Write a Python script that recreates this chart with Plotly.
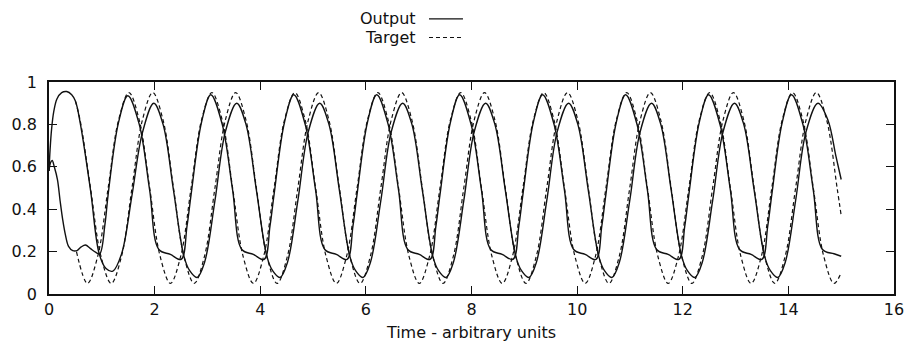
import plotly.graph_objects as go

# Time (arbitrary units) and values for the two oscillator channels.
# Channel A and channel B each have a network output (solid) and a target (dashed).

target_a_t = [
    0.52, 0.728, 0.924, 1.120, 1.317, 1.513, 1.709, 1.906, 2.102,
    2.299, 2.495, 2.691, 2.888, 3.084, 3.280, 3.477, 3.673,
    3.870, 4.066, 4.262, 4.459, 4.655, 4.851, 5.048, 5.244,
    5.441, 5.637, 5.833, 6.030, 6.226, 6.422, 6.619, 6.815,
    7.011, 7.207, 7.403, 7.600, 7.796, 7.992, 8.189, 8.385,
    8.582, 8.778, 8.974, 9.171, 9.367, 9.563, 9.760, 9.956,
    10.153, 10.349, 10.545, 10.742, 10.938, 11.134, 11.331, 11.527,
    11.724, 11.920, 12.116, 12.313, 12.509, 12.705, 12.902, 13.098,
    13.294, 13.490, 13.686, 13.883, 14.079, 14.275, 14.472, 14.668,
    14.864, 15.0,
]
target_a_y = [
    0.20, 0.05, 0.18, 0.50, 0.82, 0.95, 0.82, 0.50, 0.18,
    0.05, 0.18, 0.50, 0.82, 0.95, 0.82, 0.50, 0.18,
    0.05, 0.18, 0.50, 0.82, 0.95, 0.82, 0.50, 0.18,
    0.05, 0.18, 0.50, 0.82, 0.95, 0.82, 0.50, 0.18,
    0.05, 0.18, 0.50, 0.82, 0.95, 0.82, 0.50, 0.18,
    0.05, 0.18, 0.50, 0.82, 0.95, 0.82, 0.50, 0.18,
    0.05, 0.18, 0.50, 0.82, 0.95, 0.82, 0.50, 0.18,
    0.05, 0.18, 0.50, 0.82, 0.95, 0.82, 0.50, 0.18,
    0.05, 0.18, 0.50, 0.82, 0.95, 0.82, 0.50, 0.18,
    0.05, 0.10,
]

target_b_t = [
    0.50, 0.589, 0.786, 0.982, 1.178, 1.375, 1.571, 1.768,
    1.964, 2.160, 2.357, 2.553, 2.749, 2.946, 3.142, 3.339,
    3.534, 3.730, 3.927, 4.123, 4.319, 4.516, 4.712, 4.909,
    5.105, 5.301, 5.498, 5.694, 5.890, 6.087, 6.283, 6.480,
    6.676, 6.872, 7.069, 7.265, 7.461, 7.658, 7.854, 8.051,
    8.247, 8.443, 8.640, 8.836, 9.032, 9.229, 9.425, 9.622,
    9.818, 10.014, 10.211, 10.407, 10.603, 10.800, 10.996, 11.193,
    11.388, 11.584, 11.781, 11.977, 12.173, 12.370, 12.566, 12.763,
    12.959, 13.155, 13.352, 13.548, 13.744, 13.941, 14.137, 14.334,
    14.530, 14.726, 14.923, 15.0,
]
target_b_y = [
    0.91, 0.82, 0.50, 0.18, 0.05, 0.18, 0.50, 0.82,
    0.95, 0.82, 0.50, 0.18, 0.05, 0.18, 0.50, 0.82,
    0.95, 0.82, 0.50, 0.18, 0.05, 0.18, 0.50, 0.82,
    0.95, 0.82, 0.50, 0.18, 0.05, 0.18, 0.50, 0.82,
    0.95, 0.82, 0.50, 0.18, 0.05, 0.18, 0.50, 0.82,
    0.95, 0.82, 0.50, 0.18, 0.05, 0.18, 0.50, 0.82,
    0.95, 0.82, 0.50, 0.18, 0.05, 0.18, 0.50, 0.82,
    0.95, 0.82, 0.50, 0.18, 0.05, 0.18, 0.50, 0.82,
    0.95, 0.82, 0.50, 0.18, 0.05, 0.18, 0.50, 0.82,
    0.95, 0.82, 0.50, 0.37,
]

output_a_t = [
    0.00, 0.03, 0.06, 0.10, 0.16, 0.21, 0.26, 0.31, 0.37, 0.45, 0.53,
    0.61, 0.69, 0.78, 0.88, 0.96, 1.06, 1.12, 1.317,
    1.493, 1.709, 1.906, 2.080, 2.298, 2.503, 2.613, 2.691, 2.888,
    3.064, 3.280, 3.477, 3.651, 3.869, 4.074, 4.184, 4.262, 4.459,
    4.635, 4.851, 5.048, 5.222, 5.440, 5.645, 5.755, 5.833, 6.030,
    6.206, 6.422, 6.619, 6.793, 7.011, 7.216, 7.326, 7.404, 7.601,
    7.776, 7.992, 8.189, 8.363, 8.581, 8.786, 8.896, 8.974, 9.171,
    9.347, 9.563, 9.760, 9.934, 10.152, 10.357, 10.467, 10.545, 10.742,
    10.918, 11.134, 11.331, 11.505, 11.723, 11.928, 12.038, 12.116, 12.313,
    12.489, 12.705, 12.902, 13.076, 13.294, 13.499, 13.609, 13.687, 13.884,
    14.059, 14.275, 14.472, 14.646, 14.864, 15.0,
]
output_a_y = [
    0.58, 0.62, 0.63, 0.60, 0.54, 0.44, 0.35, 0.28, 0.225, 0.205, 0.205,
    0.222, 0.231, 0.215, 0.197, 0.19, 0.33, 0.47, 0.81,
    0.935, 0.80, 0.49, 0.21, 0.187, 0.163, 0.32, 0.47, 0.81,
    0.94, 0.80, 0.49, 0.21, 0.187, 0.163, 0.32, 0.47, 0.81,
    0.94, 0.80, 0.49, 0.21, 0.187, 0.163, 0.32, 0.47, 0.81,
    0.94, 0.80, 0.49, 0.21, 0.187, 0.163, 0.32, 0.47, 0.81,
    0.94, 0.80, 0.49, 0.21, 0.187, 0.163, 0.32, 0.47, 0.81,
    0.94, 0.80, 0.49, 0.21, 0.187, 0.163, 0.32, 0.47, 0.81,
    0.94, 0.80, 0.49, 0.21, 0.187, 0.163, 0.32, 0.47, 0.81,
    0.94, 0.80, 0.49, 0.21, 0.187, 0.163, 0.32, 0.47, 0.81,
    0.94, 0.80, 0.49, 0.21, 0.19, 0.178,
]

output_b_t = [
    0.00, 0.02, 0.05, 0.09, 0.15, 0.24, 0.335, 0.43, 0.50, 0.589, 0.786,
    0.95, 1.08, 1.21, 1.375, 1.571, 1.768,
    1.984, 2.160, 2.357, 2.553, 2.664, 2.804, 2.946, 3.142, 3.339,
    3.554, 3.730, 3.927, 4.123, 4.234, 4.374, 4.516, 4.712, 4.909,
    5.125, 5.301, 5.498, 5.694, 5.805, 5.945, 6.087, 6.283, 6.480,
    6.696, 6.872, 7.069, 7.265, 7.376, 7.516, 7.658, 7.854, 8.051,
    8.267, 8.443, 8.640, 8.836, 8.947, 9.087, 9.229, 9.425, 9.622,
    9.838, 10.014, 10.211, 10.407, 10.518, 10.658, 10.800, 10.996, 11.193,
    11.408, 11.584, 11.781, 11.977, 12.088, 12.228, 12.370, 12.566, 12.763,
    12.979, 13.155, 13.352, 13.548, 13.659, 13.799, 13.941, 14.137, 14.334,
    14.560, 14.75, 14.90, 15.0,
]
output_b_y = [
    0.58, 0.68, 0.78, 0.86, 0.92, 0.95, 0.955, 0.94, 0.91, 0.81, 0.49,
    0.19, 0.12, 0.108, 0.19, 0.465, 0.76,
    0.90, 0.80, 0.49, 0.18, 0.11, 0.078, 0.15, 0.44, 0.765,
    0.90, 0.80, 0.49, 0.18, 0.11, 0.078, 0.15, 0.44, 0.765,
    0.90, 0.80, 0.49, 0.18, 0.11, 0.078, 0.15, 0.44, 0.765,
    0.90, 0.80, 0.49, 0.18, 0.11, 0.078, 0.15, 0.44, 0.765,
    0.90, 0.80, 0.49, 0.18, 0.11, 0.078, 0.15, 0.44, 0.765,
    0.90, 0.80, 0.49, 0.18, 0.11, 0.078, 0.15, 0.44, 0.765,
    0.90, 0.80, 0.49, 0.18, 0.11, 0.078, 0.15, 0.44, 0.765,
    0.90, 0.80, 0.49, 0.18, 0.11, 0.078, 0.15, 0.44, 0.765,
    0.90, 0.82, 0.65, 0.54,
]

x_ticks = [0, 2, 4, 6, 8, 10, 12, 14, 16]
y_ticks = [0, 0.2, 0.4, 0.6, 0.8, 1]
y_tick_text = ["0", "0.2", "0.4", "0.6", "0.8", "1"]

INK = "#111111"
FONT = "DejaVu Sans"
SOLID = dict(color=INK, width=1.4, shape="spline", smoothing=1)
DASHED = dict(color=INK, width=1.2, dash="4px,3px", shape="spline", smoothing=1)

fig = go.Figure()
fig.add_trace(go.Scatter(x=output_a_t, y=output_a_y, mode="lines", line=SOLID,
                         name="Output", showlegend=False))
fig.add_trace(go.Scatter(x=output_b_t, y=output_b_y, mode="lines", line=SOLID,
                         name="Output", showlegend=False))
fig.add_trace(go.Scatter(x=target_a_t, y=target_a_y, mode="lines", line=DASHED,
                         name="Target", showlegend=False))
fig.add_trace(go.Scatter(x=target_b_t, y=target_b_y, mode="lines", line=DASHED,
                         name="Target", showlegend=False))

# Key in the top centre: label on the left, line sample on the right.
key_rows = [("Output", 1.298, None), ("Target", 1.210, "4px,3px")]
for label, ypos, dash in key_rows:
    fig.add_annotation(x=0.4367, y=ypos, xref="paper", yref="paper",
                       text=label, showarrow=False, xanchor="right",
                       yanchor="middle", font=dict(family=FONT, size=16, color=INK))
    fig.add_shape(type="line", xref="paper", yref="paper",
                  x0=0.4497, x1=0.4899, y0=ypos, y1=ypos,
                  line=dict(color=INK, width=1.2, dash=dash))

axis_common = dict(
    showline=True, linecolor=INK, linewidth=1.6, mirror="allticks",
    ticks="inside", ticklen=8, tickwidth=1.3, tickcolor=INK,
    showgrid=False, zeroline=False, automargin=False,
    tickfont=dict(family=FONT, size=16, color=INK),
)

fig.update_layout(
    width=907, height=344,
    margin=dict(l=49, r=13, t=82, b=50),
    paper_bgcolor="white", plot_bgcolor="white",
    xaxis=dict(range=[0, 16], tickvals=x_ticks,
               title=dict(text="Time - arbitrary units",
                          font=dict(family=FONT, size=16, color=INK), standoff=9),
               **axis_common),
    yaxis=dict(range=[0, 1], tickvals=y_ticks, ticktext=y_tick_text,
               ticklabelstandoff=7, **axis_common),
)

fig.write_html("out.html")
